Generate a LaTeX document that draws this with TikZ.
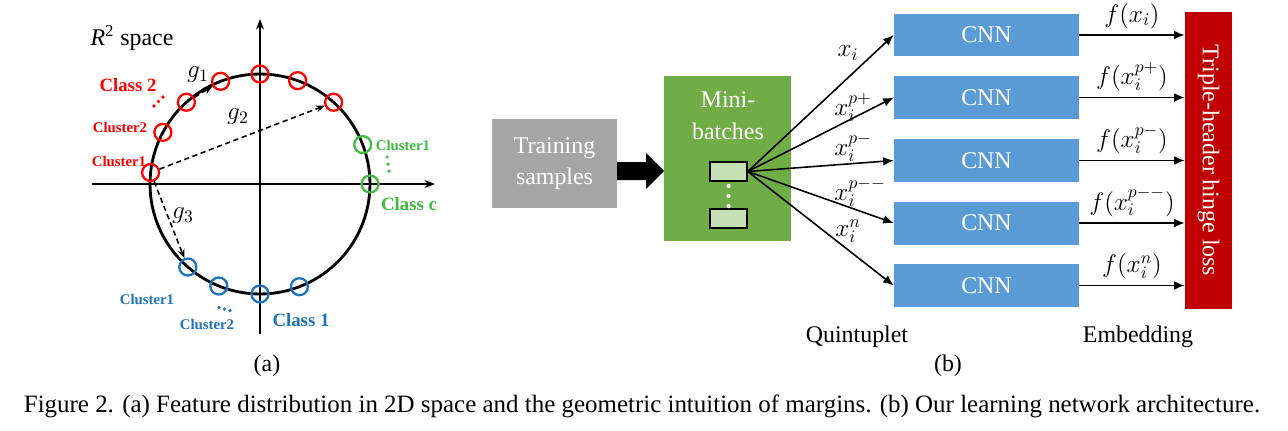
\documentclass[tikz,border=0pt]{standalone}
\usepackage{fontspec}
\setmainfont{Liberation Serif}
\usetikzlibrary{arrows.meta,positioning}
\definecolor{cnnblue}{RGB}{91,155,213}
\definecolor{minigreen}{RGB}{112,173,71}
\definecolor{lightgreen}{RGB}{197,224,180}
\definecolor{traingray}{RGB}{165,165,165}
\definecolor{lossred}{RGB}{192,0,0}
\definecolor{clsgreen}{RGB}{60,190,60}
\definecolor{clsblue}{RGB}{30,115,190}
\begin{document}
\begin{tikzpicture}[x=0.02cm,y=-0.02cm,
  every node/.style={font=\fontsize{13.6}{18}\selectfont},
  pt/.style={circle, draw, line width=1.3pt, minimum size=0.34cm, inner sep=0pt},
  gap/.style={densely dashed, line width=0.9pt, -{Stealth[length=5pt,width=4pt]}},
  cls/.style={font=\bfseries\fontsize{10.7}{12}\selectfont},
  clu/.style={font=\bfseries\fontsize{8.4}{10}\selectfont},
  cnn/.style={fill=cnnblue, text=white, minimum width=3.7cm, minimum height=0.86cm, inner sep=0pt},
  fan/.style={line width=0.9pt, -{Latex[length=6pt,width=5pt]}},
  outarr/.style={line width=0.9pt, -{Latex[length=6pt,width=5pt]}}]
\useasboundingbox (0,0) rectangle (1288,430);

% (a) feature space
\draw[line width=0.7pt, -{Stealth[length=6pt]}] (92,184) -- (435,184);
\draw[line width=0.7pt, -{Stealth[length=6pt]}] (260,334) -- (260,19);
\draw[line width=1.6pt] (260,184) circle [radius=2.2cm];
\foreach \a [count=\k] in {174,152,132,111,90,70,48}
  \node[pt, draw=red] (r\k) at ({260+110*cos(\a)},{184-110*sin(\a)}) {};
\foreach \a [count=\k] in {21,0}
  \node[pt, draw=clsgreen] (gr\k) at ({260+110*cos(\a)},{184-110*sin(\a)}) {};
\foreach \a [count=\k] in {229,248,270,291}
  \node[pt, draw=clsblue] (b\k) at ({260+110*cos(\a)},{184-110*sin(\a)}) {};
\draw[gap] (r3) -- (r4);
\draw[gap] (r1) -- (r7);
\draw[gap] (r1) -- (b1);
\node (g1) at (198,75) {$g_1$};
\node (g2) at (238,117) {$g_2$};
\node (g3) at (183,216) {$g_3$};
\node (space) at (132,38) {\textit{R}\textsuperscript{2} space};
\node[cls, text=red] (cls2) at (128,85) {Class 2};
\foreach \p in {(154,106),(158.5,101.5),(163,97)} \fill[red] \p circle [radius=1pt];
\node[clu, text=red] (clu2) at (120,127) {Cluster2};
\node[clu, text=red] (clu1) at (119,161) {Cluster1};
\node[clu, text=clsgreen] (gclu1) at (403,145) {Cluster1};
\foreach \p in {(387,157),(388,164),(389,171)} \fill[clsgreen] \p circle [radius=1pt];
\node[cls, text=clsgreen] (clsc) at (409,204) {Class c};
\node[clu, text=clsblue] (bclu1) at (147,299) {Cluster1};
\foreach \p in {(219,307.5),(224.5,309),(230,310.5)} \fill[clsblue] \p circle [radius=1pt];
\node[clu, text=clsblue] (bclu2) at (207,324) {Cluster2};
\node[cls, text=clsblue] (cls1) at (301,320) {Class 1};
\node (capa) at (267,366) {(a)};

% (b) network
\node[fill=traingray, text=white, align=center, minimum width=2.5cm, minimum height=1.78cm] (train) at (554.5,163.5) {Training\\samples};
\node[fill=minigreen, minimum width=2.54cm, minimum height=3.3cm] (mini) at (727.5,158.5) {};
\node[text=white, align=center] (minitxt) at (728,116) {Mini-\\batches};
\node[fill=lightgreen, draw, line width=0.9pt, minimum width=0.74cm, minimum height=0.38cm, inner sep=0pt] (s1) at (728.5,171.5) {};
\node[fill=lightgreen, draw, line width=0.9pt, minimum width=0.74cm, minimum height=0.38cm, inner sep=0pt] (s2) at (728.5,218.5) {};
\foreach \y in {186,196,206} \fill[white] (728.5,\y) circle [radius=1.2pt];
% block arrow
\fill (617,162) -- (646,162) -- (646,153) -- (664,171) -- (646,189) -- (646,180) -- (617,180) -- cycle;

\foreach \y [count=\k] in {35,97.5,160.5,223,285.5}
  \node[cnn] (c\k) at (986.5,\y) {CNN};
\node[fill=lossred, text=white, rotate=-90, minimum width=5.94cm, minimum height=0.94cm, inner sep=0pt] (loss) at (1208.5,160.5) {Triple-header hinge loss};

\foreach \k in {1,...,5}
  \draw[fan] (s1.east) -- (c\k.west);
\node[inner sep=1pt] (x1) at (848,53) {$x_i$};
\node[inner sep=1pt] (x2) at (853,107) {$x_i^{p+}$};
\node[inner sep=1pt] (x3) at (853,147) {$x_i^{p-}$};
\node[inner sep=1pt] (x4) at (860,192) {$x_i^{p--}$};
\node[inner sep=1pt] (x5) at (848,231) {$x_i^{n}$};

\foreach \k/\t in {1/{$f(x_i)$},2/{$f(x_i^{p+})$},3/{$f(x_i^{p-})$},4/{$f(x_i^{p--})$},5/{$f(x_i^{n})$}}
  \draw[outarr] (c\k.east) -- (c\k.east -| loss.south) node[midway, above] {\t};

\node (quint) at (857,337) {Quintuplet};
\node (emb) at (1138,337) {Embedding};
\node (capb) at (948,366) {(b)};

\node[font=\fontsize{14.2}{18}\selectfont] (caption) at (642,406) {Figure 2. (a) Feature distribution in 2D space and the geometric intuition of margins. (b) Our learning network architecture.};
\end{tikzpicture}
\end{document}
